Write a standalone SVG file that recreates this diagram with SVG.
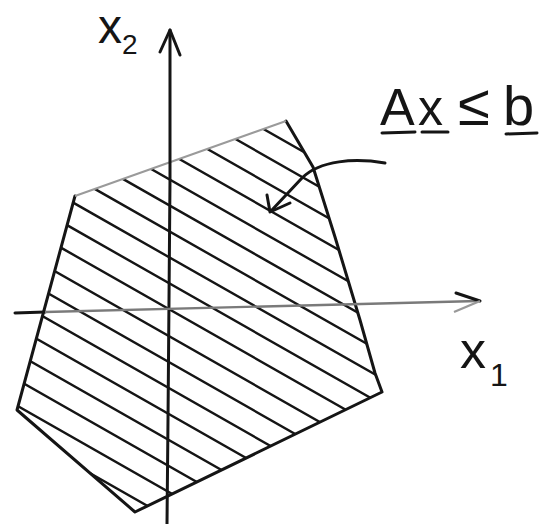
<svg xmlns="http://www.w3.org/2000/svg" width="551" height="524" viewBox="0 0 551 524">
<style>
.ink{fill:none;stroke:#151515;stroke-width:3;stroke-linecap:round;stroke-linejoin:round}
.hatch line{stroke:#151515;stroke-width:2.4;stroke-linecap:round}
.lbl{font-family:"Liberation Sans",Arial,sans-serif;fill:#151515}
</style>
<defs>
<clipPath id="clip"><path d="M75,196 L286,121 L313,167 L335,237 L360,320 L375,373 L382,392 L135,512 L17,410 Z"/></clipPath>
</defs>
<rect width="551" height="524" fill="#fff"/>
<g id="region">
<g class="hatch" clip-path="url(#clip)">
<line x1="0" y1="-21" x2="420" y2="218"/>
<line x1="0" y1="5" x2="420" y2="244"/>
<line x1="0" y1="31" x2="420" y2="270"/>
<line x1="0" y1="57" x2="420" y2="296"/>
<line x1="0" y1="83" x2="420" y2="322"/>
<line x1="0" y1="109" x2="420" y2="348"/>
<line x1="0" y1="135" x2="420" y2="374"/>
<line x1="0" y1="161" x2="420" y2="400"/>
<line x1="0" y1="187" x2="420" y2="426"/>
<line x1="0" y1="213" x2="420" y2="452"/>
<line x1="0" y1="240" x2="420" y2="479"/>
<line x1="0" y1="266" x2="420" y2="505"/>
<line x1="0" y1="292" x2="420" y2="531"/>
<line x1="0" y1="318" x2="420" y2="557"/>
<line x1="0" y1="344" x2="420" y2="583"/>
<line x1="0" y1="370" x2="420" y2="609"/>
<line x1="0" y1="396" x2="420" y2="635"/>
<line x1="0" y1="422" x2="420" y2="661"/>
</g>
<path class="ink" d="M286,121 L313,167 L335,237 L360,320 L375,373 L382,392 L135,512 L17,410 L75,196"/>
<path d="M75,196 L286,121" fill="none" stroke="#9a9a9a" stroke-width="2"/>
</g>
<g id="axes">
<path class="ink" d="M167,524 L168,420 L169,300 L170,180 L170,30"/>
<path class="ink" d="M160,52 L170,30 L180,55"/>
<path d="M15,313 L45,312" class="ink"/>
<path d="M45,312 L478,301" fill="none" stroke="#7a7a7a" stroke-width="2.4"/>
<path class="ink" d="M456,293 L480,301"/>
<path d="M480,301 L454,312" fill="none" stroke="#999" stroke-width="2.4"/>
</g>
<g id="labels">
<text class="lbl" x="98" y="43" font-size="48">x</text>
<text class="lbl" x="122" y="54" font-size="28">2</text>
<text class="lbl" x="460" y="368" font-size="52">x</text>
<text class="lbl" x="490" y="386" font-size="32">1</text>
<text class="lbl" x="380" y="125" font-size="52">A</text>
<text class="lbl" x="418" y="125" font-size="50">x</text>
<text class="lbl" x="458" y="125" font-size="58">≤</text>
<text class="lbl" x="503" y="125" font-size="56">b</text>
<path class="ink" d="M382,133 L415,132 M422,132 L448,132 M506,134 L537,133"/>
</g>
<g id="pointer">
<path class="ink" d="M385,163 C355,158 320,160 302,178 L271,211"/>
<path class="ink" d="M267,195 L270,212 L290,203"/>
</g>
</svg>
